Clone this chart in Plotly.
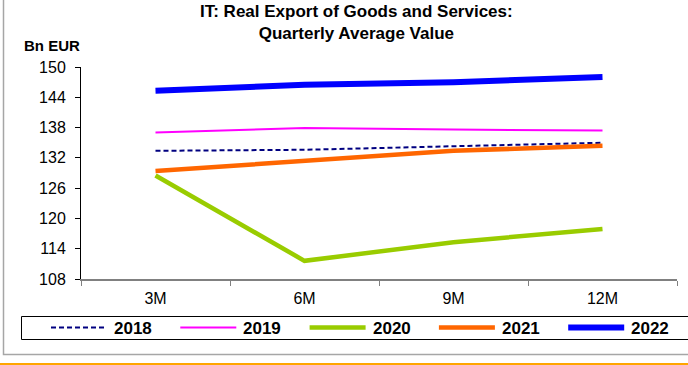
import plotly.graph_objects as go

# Quarterly average values, Bn EUR
periods = ["3M", "6M", "9M", "12M"]
years = ["2018", "2019", "2020", "2021", "2022"]
v2018 = [133.4, 133.6, 134.3, 135.0]
v2019 = [137.0, 137.9, 137.6, 137.4]
v2020 = [128.5, 111.6, 115.3, 117.9]
v2021 = [129.4, 131.5, 133.4, 134.4]
v2022 = [145.3, 146.5, 147.0, 148.0]
y_ticks = [108, 114, 120, 126, 132, 138, 144, 150]

series = [v2018, v2019, v2020, v2021, v2022]
colors = ["#000080", "#FF00FF", "#99CC00", "#FF6600", "#0000FF"]
widths = [2, 2, 4.5, 4.5, 6]
dashes = ["5px,3px", "solid", "solid", "solid", "solid"]

W, H = 688, 365
L, R, T, B = 81, 11, 67, 86
FONT = "Liberation Sans, Arial, sans-serif"


def px(x):
    # figure pixel -> paper x
    return (x - L) / (W - L - R)


def py(y):
    # figure pixel -> paper y
    return (H - B - y) / (H - T - B)


fig = go.Figure()
for name, vals, c, w, d in zip(years, series, colors, widths, dashes):
    fig.add_trace(go.Scatter(
        x=periods, y=vals, mode="lines", name=name,
        line=dict(color=c, width=w, dash=d),
        showlegend=False
    ))

shapes = [
    # outer gray frame
    dict(type="rect", xref="paper", yref="paper",
         x0=px(3.5), x1=px(700), y0=py(354.5), y1=py(-5),
         line=dict(color="#A6A6A6", width=1.5)),
    # orange rule at bottom
    dict(type="line", xref="paper", yref="paper",
         x0=px(-5), x1=px(700), y0=py(364), y1=py(364),
         line=dict(color="#FFA500", width=2)),
    # legend box
    dict(type="rect", xref="paper", yref="paper",
         x0=px(21.5), x1=px(700), y0=py(339.5), y1=py(316.5),
         line=dict(color="#000000", width=1)),
]
annotations = [
    dict(text="<b>IT: Real Export of Goods and Services:<br>Quarterly Average Value</b>",
         xref="paper", yref="paper", x=px(356), y=py(0), xanchor="center", yanchor="top",
         showarrow=False, font=dict(size=17, color="#000000", family=FONT)),
    dict(text="<b>Bn EUR</b>", xref="paper", yref="paper", x=px(22), y=py(46),
         xanchor="left", yanchor="middle", showarrow=False,
         font=dict(size=15, color="#000000", family=FONT)),
]

# hand-drawn legend to match the long line samples
for i, (name, c, w, d) in enumerate(zip(years, colors, widths, dashes)):
    x0 = 51 + i * 129.3
    shapes.append(dict(type="line", xref="paper", yref="paper",
                       x0=px(x0), x1=px(x0 + 56), y0=py(327.5), y1=py(327.5),
                       line=dict(color=c, width=w, dash=d if d != "solid" else None)))
    annotations.append(dict(text="<b>" + name + "</b>", xref="paper", yref="paper",
                            x=px(x0 + 61), y=py(328), xanchor="left", yanchor="middle",
                            showarrow=False, font=dict(size=17, color="#000000", family=FONT)))

fig.update_layout(
    width=W, height=H,
    margin=dict(l=L, r=R, t=T, b=B),
    paper_bgcolor="white", plot_bgcolor="white",
    font=dict(family=FONT, size=15, color="#000000"),
    showlegend=False,
    hovermode=False,
    shapes=shapes,
    annotations=annotations,
    xaxis=dict(
        type="category", range=[-0.5, 3.5], tickson="boundaries",
        showgrid=False, zeroline=False,
        showline=True, linecolor="#808080", linewidth=1.5,
        ticks="outside", ticklen=5, tickcolor="#808080", tickwidth=1,
        ticklabelstandoff=4,
        tickfont=dict(size=16, color="#000000"),
    ),
    yaxis=dict(
        range=[108, 150], tickvals=y_ticks,
        showgrid=False, zeroline=False,
        showline=True, linecolor="#000000", linewidth=1,
        ticks="outside", ticklen=5, tickcolor="#000000",
        ticklabelstandoff=6,
        tickfont=dict(size=16, color="#000000"),
    ),
)

# page body has a default 8px margin; drop it so the chart sits at 0,0
fig.write_html("out.html", config={"displayModeBar": False},
               post_script="document.body.style.margin='0';")
